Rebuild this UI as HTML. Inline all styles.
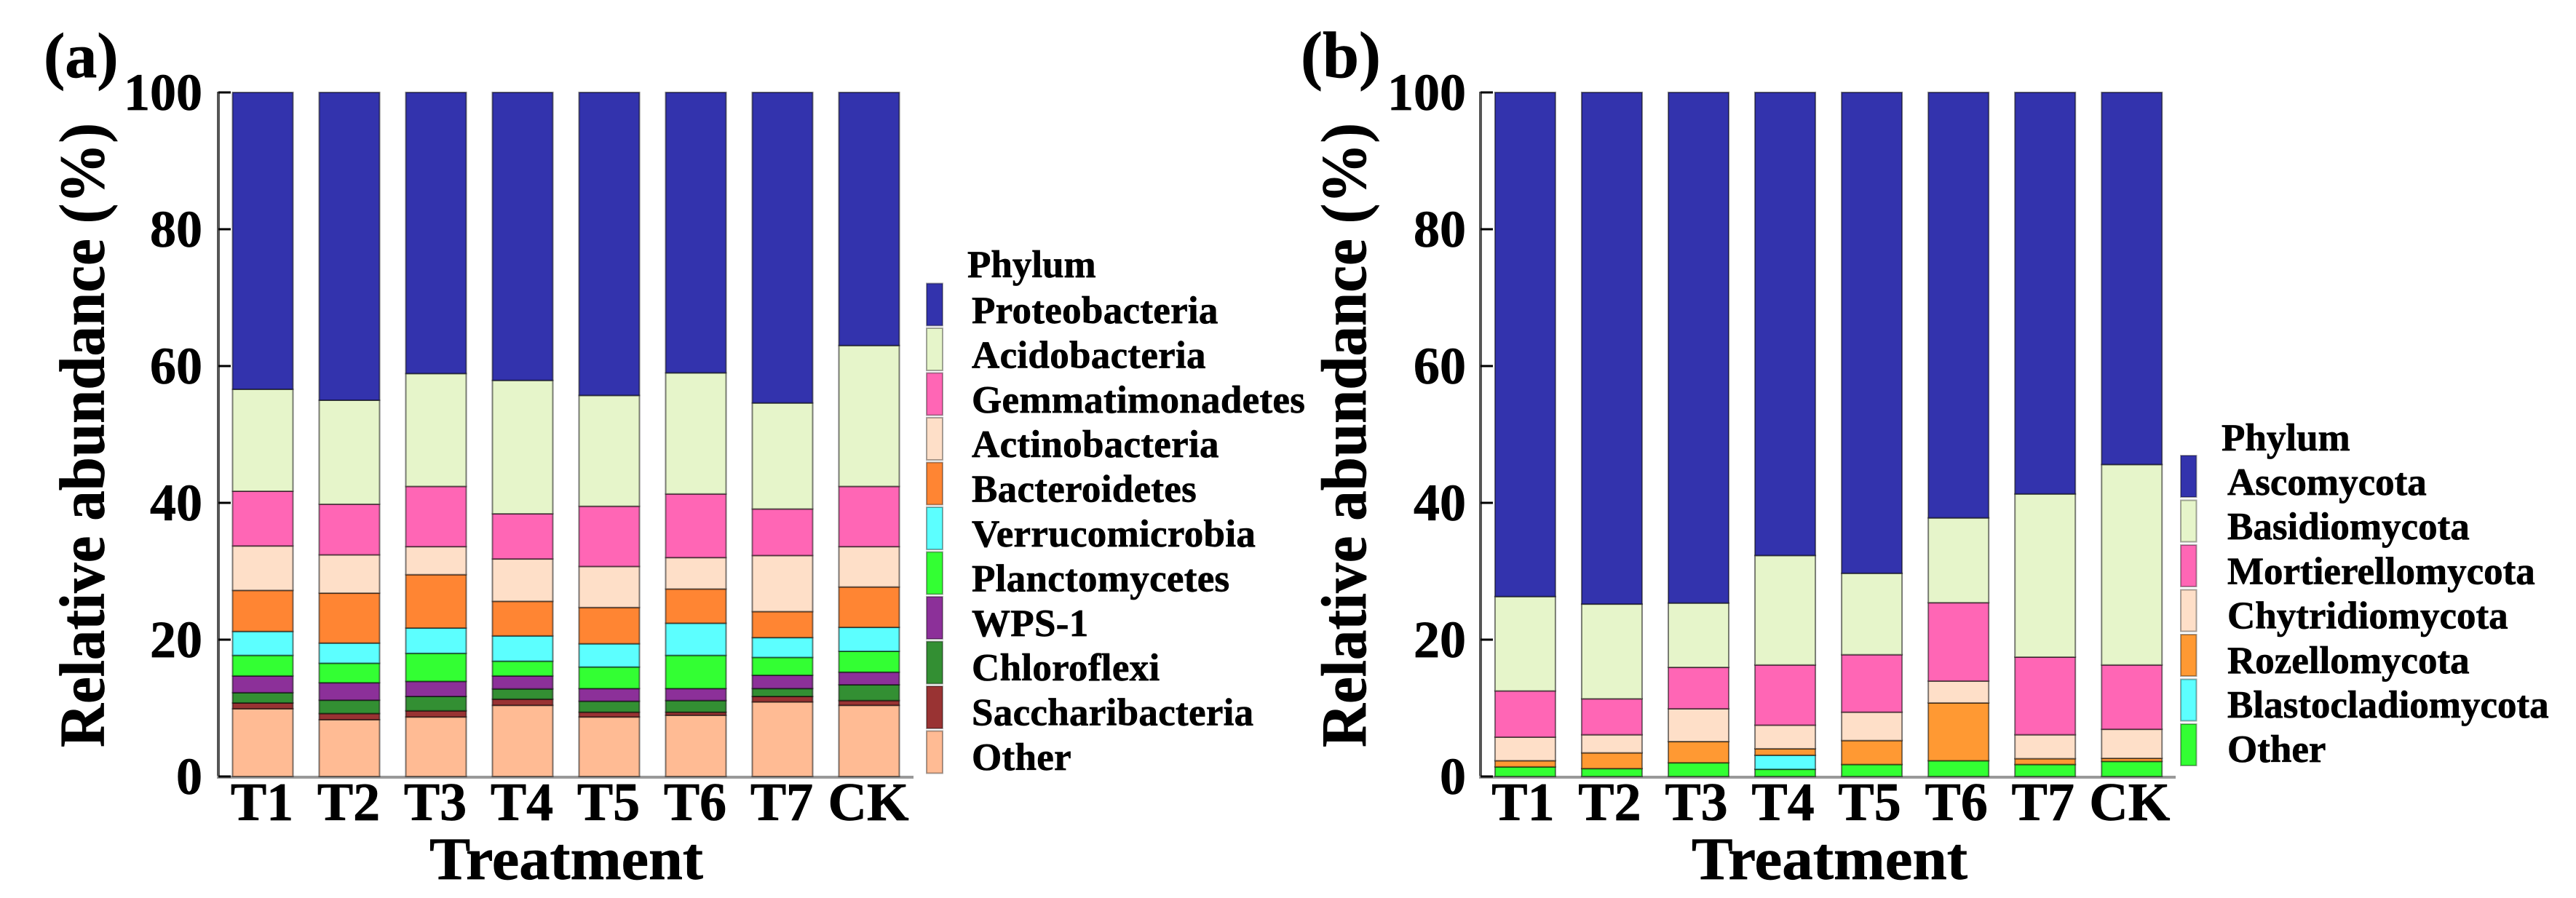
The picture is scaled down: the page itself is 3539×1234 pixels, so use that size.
<!DOCTYPE html>
<html lang="en">
<head>
<meta charset="utf-8">
<title>Relative abundance by phylum</title>
<style>
html,body{margin:0;padding:0;background:#fff;}
svg{display:block;}
text{font-family:"Liberation Serif",serif;font-weight:bold;fill:#000;stroke:#000;stroke-width:0.7px;}
</style>
</head>
<body>
<svg id="chart" xmlns="http://www.w3.org/2000/svg" width="3539" height="1234" viewBox="0 0 3539 1234">
<rect x="0" y="0" width="3539" height="1234" fill="#fff"/>
<text x="60" y="106" font-size="88">(a)</text>
<text x="1787" y="106" font-size="90">(b)</text>
<text transform="translate(142.6,1027) rotate(-90)" font-size="88" textLength="858" lengthAdjust="spacingAndGlyphs">Relative abundance (%)</text>
<text transform="translate(1876,1027) rotate(-90)" font-size="88" textLength="858" lengthAdjust="spacingAndGlyphs">Relative abundance (%)</text>
<text x="590" y="1208" font-size="83" textLength="376" lengthAdjust="spacingAndGlyphs">Treatment</text>
<text x="2324" y="1208" font-size="83" textLength="379" lengthAdjust="spacingAndGlyphs">Treatment</text>
<text x="1329" y="381" font-size="53">Phylum</text>
<text x="3052" y="619" font-size="53">Phylum</text>
</svg>
<script>
const categories = ["T1","T2","T3","T4","T5","T6","T7","CK"];
const yTicks = [0,20,40,60,80,100];

// Panel (a): values in %, stacked bottom-up
const otherA = [9.9,8.3,8.7,10.4,8.7,8.95,10.9,10.4];
const saccharibacteriaA = [0.85,0.9,0.9,0.9,0.7,0.45,0.8,0.7];
const chloroflexiA = [1.5,1.95,2.1,1.5,1.6,1.7,1.15,2.3];
const wps1A = [2.45,2.55,2.2,1.9,1.85,1.75,1.95,1.85];
const planctomycetesA = [3.0,2.85,4.1,2.15,3.15,4.85,2.6,3.05];
const verrucomicrobiaA = [3.5,2.95,3.7,3.7,3.4,4.7,2.9,3.5];
const bacteroidetesA = [6.0,7.3,7.8,5.05,5.3,5.0,3.8,5.9];
const actinobacteriaA = [6.5,5.6,4.1,6.2,6.0,4.6,8.2,5.9];
const gemmatimonadetesA = [8.0,7.4,8.8,6.6,8.8,9.3,6.8,8.8];
const acidobacteriaA = [14.9,15.2,16.5,19.5,16.2,17.7,15.5,20.6];
const proteobacteriaA = [43.4,45.0,41.1,42.1,44.3,41.0,45.4,37.0];

// Panel (b): values in %, stacked bottom-up
const otherB = [1.4,1.15,2.0,1.05,1.75,2.3,1.75,2.2];
const blastocladiomycotaB = [0,0,0,2.05,0,0,0,0];
const rozellomycotaB = [0.9,2.3,3.1,0.95,3.5,8.45,0.85,0.45];
const chytridiomycotaB = [3.45,2.65,4.8,3.45,4.15,3.2,3.5,4.25];
const mortierellomycotaB = [6.75,5.25,6.05,8.8,8.4,11.45,11.35,9.4];
const basidiomycotaB = [13.8,13.85,9.4,16.0,11.9,12.4,23.85,29.3];
const ascomycotaB = [73.7,74.8,74.65,67.7,70.3,62.2,58.7,54.4];

const seriesA = [
  ["Other",otherA,"#FFBB94"],
  ["Saccharibacteria",saccharibacteriaA,"#993333"],
  ["Chloroflexi",chloroflexiA,"#338F33"],
  ["WPS-1",wps1A,"#8C3099"],
  ["Planctomycetes",planctomycetesA,"#33FF33"],
  ["Verrucomicrobia",verrucomicrobiaA,"#5CFFFF"],
  ["Bacteroidetes",bacteroidetesA,"#FF8533"],
  ["Actinobacteria",actinobacteriaA,"#FEDFC8"],
  ["Gemmatimonadetes",gemmatimonadetesA,"#FF66B5"],
  ["Acidobacteria",acidobacteriaA,"#E6F5CA"],
  ["Proteobacteria",proteobacteriaA,"#3333AD"]
];
const seriesB = [
  ["Other",otherB,"#33FF33"],
  ["Blastocladiomycota",blastocladiomycotaB,"#5CFFFF"],
  ["Rozellomycota",rozellomycotaB,"#FF9933"],
  ["Chytridiomycota",chytridiomycotaB,"#FEDFC8"],
  ["Mortierellomycota",mortierellomycotaB,"#FF66B5"],
  ["Basidiomycota",basidiomycotaB,"#E6F5CA"],
  ["Ascomycota",ascomycotaB,"#3333AD"]
];

const svg = document.getElementById('chart');
const NS = 'http://www.w3.org/2000/svg';
const Y0 = 1067, PX_PER_UNIT = 9.4;
function yScale(v){ return Y0 - v * PX_PER_UNIT; }
function make(tag, attrs, text){
  const el = document.createElementNS(NS, tag);
  for (const k in attrs) el.setAttribute(k, attrs[k]);
  if (text !== undefined) el.textContent = text;
  svg.appendChild(el);
  return el;
}

function drawPanel(p){
  const xScale = i => p.firstBarCenter + i * p.step;

  const yAxis = make('line',{x1:p.axisX,x2:p.axisX,y1:yScale(100)-1,y2:Y0+2,stroke:'#555','stroke-width':4});
  
  
  const xAxis = make('line',{x1:p.axisX-2,x2:p.axisEnd,y1:Y0+1,y2:Y0+1,stroke:'#999','stroke-width':4});
  
  

  yTicks.forEach(t => {
    const tick = make('line',{x1:p.axisX,x2:p.axisX+17,y1:yScale(t),y2:yScale(t),stroke:'#000','stroke-width':3});
    
    
    const label = make('text',{x:p.tickRight,y:yScale(t)+24,'font-size':72,'text-anchor':'end'},String(t));
    
    
  });

  categories.forEach((c,i) => {
    let base = 0;
    p.series.forEach(s => {
      const v = s[1][i];
      if (v > 0) {
        const r = make('rect',{x:xScale(i)-p.barWidth/2,y:yScale(base+v),width:p.barWidth,height:v*PX_PER_UNIT,fill:s[2],stroke:'#000','stroke-opacity':0.5,'stroke-width':2});
        
        
      }
      base += v;
    });
    const label = make('text',{x:xScale(i)+p.labelShift,y:1127,'font-size':74,'text-anchor':'middle'},c);
    
    
  });

  p.series.slice().reverse().forEach((s,i) => {
    const sw = make('rect',{x:p.swatchX,y:p.legendTop+i*p.legendStep,width:p.swatchW,height:p.swatchH,fill:s[2],stroke:'#000','stroke-opacity':0.35,'stroke-width':2});
    
    
    const tx = make('text',{x:p.legendTextX,y:p.legendBase+i*p.legendTextStep,'font-size':53,'letter-spacing':p.letterSpacing},s[0]);
    
    
  });
}

drawPanel({id:'panel-a',series:seriesA,axisX:300,axisEnd:1255,tickRight:278,firstBarCenter:361,step:119,barWidth:83,labelShift:-1,
  swatchX:1273,swatchW:22,swatchH:58,legendTop:389.5,legendStep:61.5,legendTextX:1335,legendBase:444,legendTextStep:61.4,letterSpacing:0.3});
drawPanel({id:'panel-b',series:seriesB,axisX:2034,axisEnd:2989,tickRight:2014,firstBarCenter:2095.4,step:119.05,barWidth:83,labelShift:-3,
  swatchX:2996,swatchW:21.5,swatchH:57,legendTop:626,legendStep:61.5,legendTextX:3060,legendBase:680,legendTextStep:61.2,letterSpacing:0});
</script>
</body>
</html>
